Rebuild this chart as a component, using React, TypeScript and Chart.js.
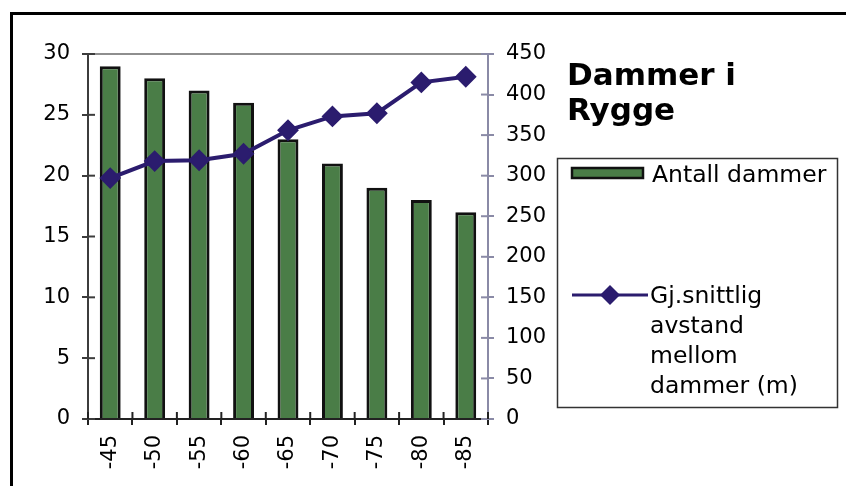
import React, { useEffect, useRef } from "react";
import { Chart, registerables } from "chart.js";

Chart.register(...registerables);

// ---- data ----
const categories = ["-45", "-50", "-55", "-60", "-65", "-70", "-75", "-80", "-85"];
const antallDammer = [29, 28, 27, 26, 23, 21, 19, 18, 17];
const avstand = [297, 318, 319, 327, 356, 373, 377, 415, 422];
const leftAxis = { min: 0, max: 30, step: 5 };
const rightAxis = { min: 0, max: 450, step: 50 };
const titleLines = ["Dammer i", "Rygge"];
const barLabel = "Antall dammer";
const lineLabelLines = ["Gj.snittlig", "avstand", "mellom", "dammer (m)"];

const FONT = "'DejaVu Sans', 'Liberation Sans', Arial, sans-serif";
const BAR_GREEN = "#4a7d47";
const LINE_BLUE = "#2b1c6e";
const LEFT_AXIS_COLOR = "#3c3c3c";
const RIGHT_AXIS_COLOR = "#8a8aa6";
const X_AXIS_COLOR = "#222222";

const decorPlugin = {
  id: "decor",
  afterDraw(chart: any) {
    const ctx = chart.ctx as CanvasRenderingContext2D;
    const { left, right, top, bottom } = chart.chartArea;
    const xs = chart.scales.x;
    const ys = chart.scales.y;
    const y1 = chart.scales.y1;
    ctx.save();

    // plot area top border
    ctx.strokeStyle = "#8e8e8e";
    ctx.lineWidth = 2;
    ctx.beginPath();
    ctx.moveTo(left, top);
    ctx.lineTo(right, top);
    ctx.stroke();

    // inner halves of cross tick marks
    ctx.lineWidth = 2;
    ctx.strokeStyle = LEFT_AXIS_COLOR;
    ys.ticks.forEach((t: any) => {
      const py = ys.getPixelForValue(t.value);
      ctx.beginPath();
      ctx.moveTo(left, py);
      ctx.lineTo(left + 7, py);
      ctx.stroke();
    });
    ctx.strokeStyle = RIGHT_AXIS_COLOR;
    y1.ticks.forEach((t: any) => {
      const py = y1.getPixelForValue(t.value);
      ctx.beginPath();
      ctx.moveTo(right - 7, py);
      ctx.lineTo(right, py);
      ctx.stroke();
    });
    ctx.strokeStyle = X_AXIS_COLOR;
    const n = categories.length;
    const half = (xs.getPixelForTick(1) - xs.getPixelForTick(0)) / 2;
    for (let i = 0; i <= n; i++) {
      const px = i < n ? xs.getPixelForTick(i) - half : xs.getPixelForTick(n - 1) + half;
      ctx.beginPath();
      ctx.moveTo(px, bottom - 7);
      ctx.lineTo(px, bottom);
      ctx.stroke();
    }

    // title
    ctx.fillStyle = "#000";
    ctx.textAlign = "left";
    ctx.textBaseline = "alphabetic";
    ctx.font = `bold 31px ${FONT}`;
    ctx.fillText(titleLines[0], 567, 85);
    ctx.fillText(titleLines[1], 567, 120);

    // legend box
    ctx.strokeStyle = "#333";
    ctx.lineWidth = 1.5;
    ctx.strokeRect(557.5, 158.5, 280, 249);

    const ds0 = chart.data.datasets[0];
    const ds1 = chart.data.datasets[1];

    // bar swatch
    ctx.fillStyle = ds0.backgroundColor;
    ctx.fillRect(572, 168, 71, 10);
    ctx.strokeStyle = "#111";
    ctx.lineWidth = 2.5;
    ctx.strokeRect(572, 168, 71, 10);
    ctx.fillStyle = "#000";
    ctx.font = `23.5px ${FONT}`;
    ctx.fillText(ds0.label, 652, 182);

    // line swatch
    ctx.strokeStyle = ds1.borderColor;
    ctx.lineWidth = 3;
    ctx.beginPath();
    ctx.moveTo(572, 295);
    ctx.lineTo(648, 295);
    ctx.stroke();
    ctx.fillStyle = ds1.pointBackgroundColor;
    ctx.beginPath();
    ctx.moveTo(610, 285);
    ctx.lineTo(620, 295);
    ctx.lineTo(610, 305);
    ctx.lineTo(600, 295);
    ctx.closePath();
    ctx.fill();
    ctx.fillStyle = "#000";
    lineLabelLines.forEach((s, i) => {
      ctx.fillText(s, 650, 303 + i * 30);
    });

    ctx.restore();
  },
};

export default function App() {
  const ref = useRef<HTMLCanvasElement | null>(null);

  useEffect(() => {
    if (!ref.current) return;
    const chart = new Chart(ref.current, {
      type: "bar",
      data: {
        labels: categories,
        datasets: [
          {
            type: "bar",
            label: barLabel,
            data: antallDammer,
            backgroundColor: BAR_GREEN,
            borderColor: "#111",
            borderWidth: 3,
            borderSkipped: "start",
            categoryPercentage: 1,
            barPercentage: 0.47,
            yAxisID: "y",
            order: 2,
          } as any,
          {
            type: "line",
            label: lineLabelLines.join(" "),
            data: avstand,
            borderColor: LINE_BLUE,
            backgroundColor: LINE_BLUE,
            pointBackgroundColor: LINE_BLUE,
            pointBorderColor: LINE_BLUE,
            borderWidth: 4,
            pointStyle: "rectRot",
            pointRadius: 9.5,
            pointBorderWidth: 2,
            tension: 0,
            yAxisID: "y1",
            order: 1,
          } as any,
        ],
      },
      options: {
        animation: false,
        responsive: true,
        maintainAspectRatio: false,
        layout: { padding: { left: 0, top: 54, right: 299, bottom: 0 } },
        plugins: {
          legend: { display: false },
          tooltip: { enabled: false },
          title: { display: false },
        },
        scales: {
          x: {
            type: "category",
            offset: true,
            grid: {
              display: true,
              offset: true,
              drawOnChartArea: false,
              drawTicks: true,
              tickLength: 6,
              color: X_AXIS_COLOR,
              lineWidth: 2,
            },
            border: { display: true, color: X_AXIS_COLOR, width: 2 },
            ticks: {
              minRotation: 90,
              maxRotation: 90,
              autoSkip: false,
              padding: 10,
              color: "#000",
              font: { family: FONT, size: 21 },
            },
            afterFit(scale: any) {
              scale.height = 67;
            },
          },
          y: {
            type: "linear",
            position: "left",
            min: leftAxis.min,
            max: leftAxis.max,
            grid: {
              drawOnChartArea: false,
              drawTicks: true,
              tickLength: 6,
              color: LEFT_AXIS_COLOR,
              lineWidth: 2,
            },
            border: { display: true, color: LEFT_AXIS_COLOR, width: 2 },
            ticks: {
              stepSize: leftAxis.step,
              padding: 12,
              color: "#000",
              font: { family: FONT, size: 21 },
            },
            afterFit(scale: any) {
              scale.width = 88;
            },
          },
          y1: {
            type: "linear",
            position: "right",
            min: rightAxis.min,
            max: rightAxis.max,
            grid: {
              drawOnChartArea: false,
              drawTicks: true,
              tickLength: 6,
              color: RIGHT_AXIS_COLOR,
              lineWidth: 2,
            },
            border: { display: true, color: RIGHT_AXIS_COLOR, width: 2 },
            ticks: {
              stepSize: rightAxis.step,
              padding: 12,
              color: "#000",
              font: { family: FONT, size: 21 },
            },
            afterFit(scale: any) {
              scale.width = 60;
            },
          },
        },
      },
      plugins: [decorPlugin],
    });
    return () => chart.destroy();
  }, []);

  return (
    <div
      style={{
        position: "fixed",
        left: 0,
        top: 0,
        width: 847,
        height: 486,
        background: "#fff",
        overflow: "hidden",
      }}
    >
      <div
        style={{
          position: "absolute",
          left: 10,
          top: 12,
          width: 833,
          height: 500,
          borderTop: "3px solid #000",
          borderLeft: "3px solid #000",
        }}
      />
      <div style={{ position: "absolute", left: 0, top: 0, width: 847, height: 486 }}>
        <canvas ref={ref} />
      </div>
    </div>
  );
}
